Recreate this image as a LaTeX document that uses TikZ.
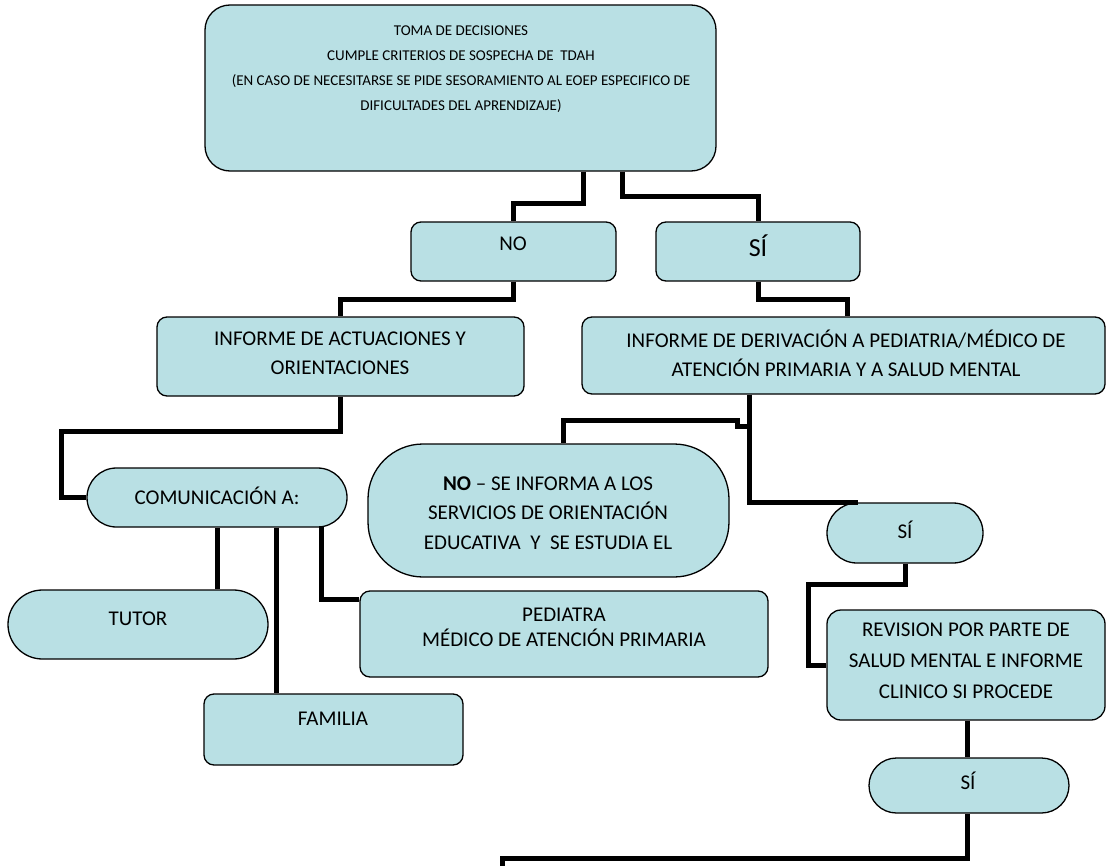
\documentclass[tikz,border=0pt]{standalone}
\usepackage{fontspec}
\setmainfont{Carlito}
\definecolor{boxfill}{RGB}{185,224,228}
\begin{document}
\begin{tikzpicture}[x=1bp,y=-1bp,
  box/.style={draw=black, line width=1.3bp, fill=boxfill, inner sep=0pt, rounded corners=10bp},
  pill/.style={box, rounded corners=#1},
  conn/.style={line width=5bp, black, line join=miter},
  txt/.style={align=center, inner sep=0pt, font=\fontsize{21bp}{29.5bp}\selectfont},
  txtsingle/.style={align=center, inner sep=0pt, font=\fontsize{21bp}{25bp}\selectfont}]
\useasboundingbox (0,0) rectangle (1107,866);

% boxes
\node[box, rounded corners=25bp, minimum width=511bp, minimum height=166bp] (top) at (460.5,88) {};
\node[box, minimum width=205bp, minimum height=59bp] (NO) at (513.5,251.5) {};
\node[box, minimum width=204bp, minimum height=59bp] (SI1) at (758,251.5) {};
\node[box, minimum width=367bp, minimum height=79bp] (ACT) at (340.5,356.5) {};
\node[box, minimum width=523bp, minimum height=77bp] (DER) at (843.5,355.5) {};
\node[pill=29.5bp, minimum width=260bp, minimum height=59bp] (COM) at (217,497.5) {};
\node[pill=55bp, minimum width=361bp, minimum height=133bp] (NOSE) at (548.5,510.5) {};
\node[pill=30bp, minimum width=156bp, minimum height=60bp] (SI2) at (905,533) {};
\node[pill=34.5bp, minimum width=260bp, minimum height=69bp] (TUT) at (138,624.5) {};
\node[box, minimum width=408bp, minimum height=86bp] (PED) at (564,634) {};
\node[box, minimum width=259bp, minimum height=71bp] (FAM) at (333.5,729.5) {};
\node[box, rounded corners=14bp, minimum width=278bp, minimum height=110bp] (REV) at (966,665) {};
\node[pill=27.5bp, minimum width=200bp, minimum height=55bp] (SI3) at (969,785.5) {};

% texts
\node[txtsingle, font=\fontsize{15bp}{25bp}\selectfont] (topT) at (461,69.5) {TOMA DE DECISIONES\\CUMPLE CRITERIOS DE SOSPECHA DE~~TDAH\\(EN CASO DE NECESITARSE SE PIDE SESORAMIENTO AL EOEP ESPECIFICO DE\\DIFICULTADES DEL APRENDIZAJE)};
\node[txt] (NOT) at (513,244) {NO};
\node[txt, font=\fontsize{26bp}{30bp}\selectfont] (SI1T) at (758,246) {SÍ};
\node[txt] (ACTT) at (340,353.5) {INFORME DE ACTUACIONES Y\\ORIENTACIONES};
\node[txt] (DERT) at (846,353.5) {INFORME DE DERIVACIÓN A PEDIATRIA/MÉDICO DE\\ATENCIÓN PRIMARIA Y A SALUD MENTAL};
\node[txt] (COMT) at (217,496) {COMUNICACIÓN A:};
\node[txt] (NOSET) at (548,513) {\textbf{NO} – SE INFORMA A LOS\\SERVICIOS DE ORIENTACIÓN\\EDUCATIVA~~Y~~SE ESTUDIA EL};
\node[txt] (SI2T) at (905,530) {SÍ};
\node[txt] (TUTT) at (138,619) {TUTOR};
\node[txtsingle] (PEDT) at (564,627.5) {PEDIATRA\\MÉDICO DE ATENCIÓN PRIMARIA};
\node[txt] (FAMT) at (333,719) {FAMILIA};
\node[txt, font=\fontsize{21bp}{31bp}\selectfont] (REVT) at (966,660.5) {REVISION POR PARTE DE\\SALUD MENTAL E INFORME\\CLINICO SI PROCEDE};
\node[txt] (SI3T) at (968,781) {SÍ};

% connectors
\draw[conn] (583,0 |- top.south) -- (583,203) -| (NO.north);
\draw[conn] (622,0 |- top.south) -- (622,196) -| (SI1.north);
\draw[conn] (NO.south) -- (513.5,299) -| (ACT.north);
\draw[conn] (SI1.south) -- (758,299) -| (847,0 |- DER.north);
\draw[conn] (ACT.south) -- (340.5,431) -| (61,497.5) -- (COM.west);
\draw[conn] (749,0 |- DER.south) -- (749,426) -- (737,426) -- (737,420) -| (563,0 |- NOSE.north);
\draw[conn] (749,0 |- DER.south) |- (858,0 |- SI2.north);
\draw[conn] (SI2.south) -- (905,584) -| (808,665) -- (REV.west);
\draw[conn] (967,0 |- REV.south) -- (967,0 |- SI3.north);
\coordinate (endpt) at (502,870);
\draw[conn] (967,0 |- SI3.south) -- (967,858) -| (endpt);
\draw[conn] (217,0 |- COM.south) -- (217,0 |- TUT.north);
\draw[conn] (276,0 |- COM.south) -- (276,0 |- FAM.north);
\draw[conn] (321,526) |- (PED.west |- 0,599);
\end{tikzpicture}
\end{document}
